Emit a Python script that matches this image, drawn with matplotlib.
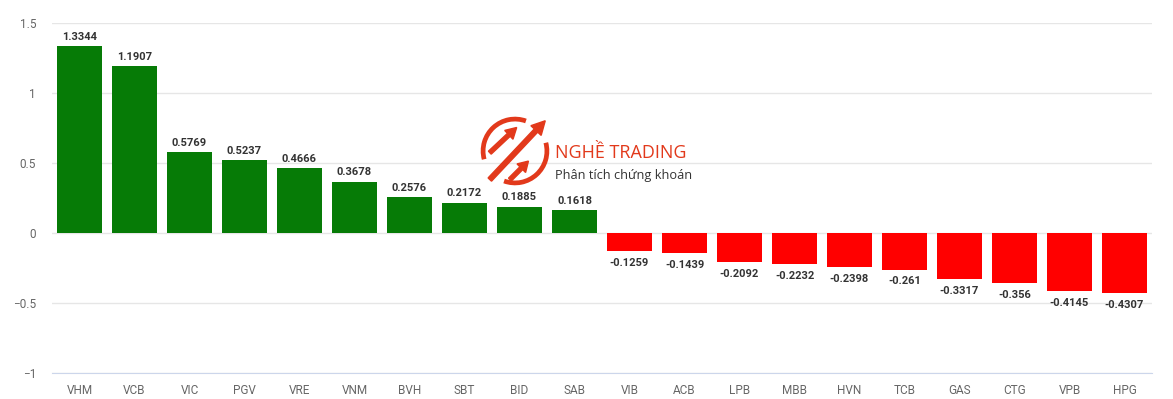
import matplotlib.pyplot as plt
from matplotlib.patches import Arc, FancyArrow

plt.rcParams["font.family"] = ["Roboto", "DejaVu Sans"]

# data
tickers = ["VHM", "VCB", "VIC", "PGV", "VRE", "VNM", "BVH", "SBT", "BID", "SAB",
           "VIB", "ACB", "LPB", "MBB", "HVN", "TCB", "GAS", "CTG", "VPB", "HPG"]
impact = [1.3344, 1.1907, 0.5769, 0.5237, 0.4666, 0.3678, 0.2576, 0.2172, 0.1885, 0.1618,
          -0.1259, -0.1439, -0.2092, -0.2232, -0.2398, -0.261, -0.3317, -0.356, -0.4145, -0.4307]
labels = ["1.3344", "1.1907", "0.5769", "0.5237", "0.4666", "0.3678", "0.2576", "0.2172",
          "0.1885", "0.1618", "-0.1259", "-0.1439", "-0.2092", "-0.2232", "-0.2398",
          "-0.261", "-0.3317", "-0.356", "-0.4145", "-0.4307"]
y_ticks = [-1, -0.5, 0, 0.5, 1, 1.5]
y_tick_labels = ["−1", "−0.5", "0", "0.5", "1", "1.5"]

W, H = 1173, 399
fig = plt.figure(figsize=(W / 100, H / 100), dpi=100)
ax = fig.add_axes([52 / W, 1 - 373 / H, 1100 / W, 350 / H])

colors = ["#067b06" if v >= 0 else "#ff0000" for v in impact]
x = range(len(tickers))
ax.bar(x, impact, width=0.82, color=colors, zorder=2)

for i, (v, lab) in enumerate(zip(impact, labels)):
    if v >= 0:
        ax.annotate(lab, (i, v), xytext=(0, 3), textcoords="offset points",
                    ha="center", va="bottom", fontsize=8, fontweight="bold", color="#333333")
    else:
        ax.annotate(lab, (i, v), xytext=(0, -5), textcoords="offset points",
                    ha="center", va="top", fontsize=8, fontweight="bold", color="#333333")

ax.set_xlim(-0.5, len(tickers) - 0.5)
ax.set_ylim(-1, 1.5)
ax.set_yticks(y_ticks)
ax.set_yticklabels(y_tick_labels)
ax.set_xticks(list(x))
ax.set_xticklabels(tickers)
ax.grid(axis="y", color="#e6e6e6", linewidth=1, zorder=0)
for s in ["top", "right", "left"]:
    ax.spines[s].set_visible(False)
ax.spines["bottom"].set_color("#ccd6eb")
ax.tick_params(axis="both", length=0, labelsize=8.5, colors="#666666")
ax.tick_params(axis="y", pad=11.5)
ax.tick_params(axis="x", pad=8)

# watermark logo
logo_red = "#e2391b"
lax = fig.add_axes([473 / W, 1 - 193 / H, 84 / W, 84 / H])
lax.set_xlim(-1.25, 1.25)
lax.set_ylim(-1.25, 1.25)
lax.set_aspect("equal")
lax.axis("off")
lax.add_patch(Arc((0, 0), 1.9, 1.9, theta1=70, theta2=195, color=logo_red, lw=3.4))
lax.add_patch(Arc((0, 0), 1.9, 1.9, theta1=250, theta2=15, color=logo_red, lw=3.4))
lax.add_patch(FancyArrow(-0.75, -0.85, 1.65, 1.75, width=0.14, head_width=0.42,
                         head_length=0.4, color=logo_red, length_includes_head=True))
lax.add_patch(FancyArrow(-0.75, -0.05, 0.8, 0.75, width=0.12, head_width=0.36,
                         head_length=0.32, color=logo_red, length_includes_head=True))
lax.add_patch(FancyArrow(-0.15, -0.85, 0.55, 0.55, width=0.12, head_width=0.36,
                         head_length=0.3, color=logo_red, length_includes_head=True))
fig.text(555 / W, 1 - 153 / H, "NGHỀ TRADING", fontsize=13, color=logo_red,
         ha="left", va="center", family="Open Sans")
fig.text(555 / W, 1 - 176 / H, "Phân tích chứng khoán", fontsize=9.2, color="#333333",
         ha="left", va="center", family="Open Sans")

fig.savefig("out.png", dpi=100)
